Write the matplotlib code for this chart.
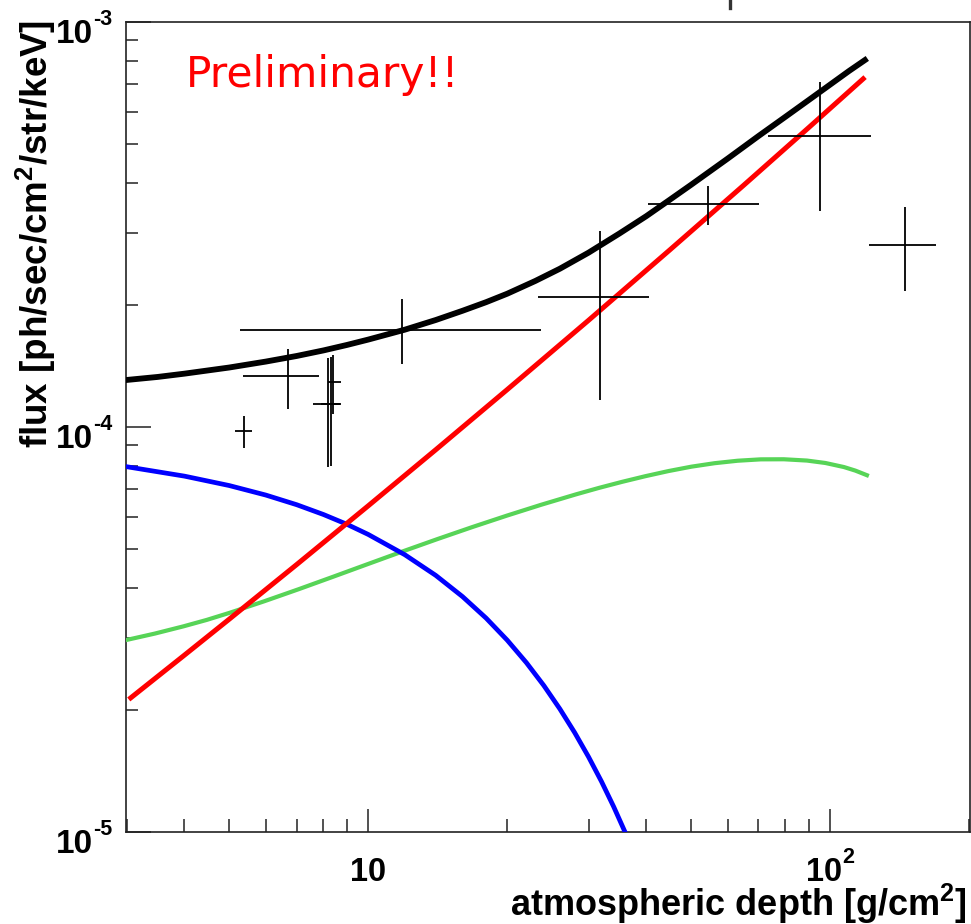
import matplotlib
matplotlib.use("Agg")
import matplotlib.pyplot as plt
import numpy as np
from matplotlib.lines import Line2D

plt.rcParams["font.family"] = ["Liberation Sans", "DejaVu Sans"]
plt.rcParams["mathtext.fontset"] = "custom"
plt.rcParams["mathtext.rm"] = "Liberation Sans:bold"
plt.rcParams["mathtext.bf"] = "Liberation Sans:bold"
plt.rcParams["mathtext.it"] = "Liberation Sans:bold"

# ---- model components (depth in g/cm^2, flux in ph/sec/cm^2/str/keV) ----
total_depth = [2.99, 3.5, 4, 5, 6, 7, 8, 9, 10, 12, 14, 16, 18, 20, 23, 26,
               30, 35, 40, 45, 50, 60, 70, 80, 90, 100, 110, 119]
total_flux = [1.304e-4, 1.327e-4, 1.352e-4, 1.40e-4, 1.448e-4, 1.495e-4,
              1.543e-4, 1.592e-4, 1.641e-4, 1.736e-4, 1.834e-4, 1.933e-4,
              2.03e-4, 2.13e-4, 2.29e-4, 2.455e-4, 2.69e-4, 3.00e-4, 3.31e-4,
              3.635e-4, 3.955e-4, 4.59e-4, 5.22e-4, 5.82e-4, 6.41e-4,
              6.99e-4, 7.56e-4, 8.04e-4]

secondary_depth = [3.06, 4, 5, 7, 10, 14, 20, 30, 45, 65, 90, 118]
secondary_flux = [2.14e-5, 2.729e-5, 3.347e-5, 4.567e-5, 6.377e-5, 8.77e-5,
                  1.235e-4, 1.831e-4, 2.733e-4, 3.945e-4, 5.482e-4, 7.228e-4]

cosmic_depth = [2.99, 4, 5, 6, 7, 8, 9, 10, 12, 14, 16, 18, 20, 22, 24, 26,
                28, 30, 32, 34, 36, 37.5]
cosmic_flux = [7.97e-5, 7.55e-5, 7.157e-5, 6.78e-5, 6.418e-5, 6.07e-5,
               5.739e-5, 5.42e-5, 4.83e-5, 4.295e-5, 3.807e-5, 3.368e-5,
               2.971e-5, 2.615e-5, 2.296e-5, 2.01e-5, 1.756e-5, 1.53e-5,
               1.33e-5, 1.153e-5, 9.97e-6, 8.93e-6]

reflected_depth = [2.99, 3.449, 3.98, 4.467, 5.01, 5.957, 7.08, 8.414, 10,
                   11.885, 14.13, 16.79, 19.95, 23.71, 28.18, 31.62, 35.48,
                   39.81, 44.67, 50.12, 56.23, 63.1, 70.79, 79.43, 89.13,
                   97.72, 107.2, 113.5, 120.2]
reflected_flux = [2.973e-5, 3.084e-5, 3.214e-5, 3.333e-5, 3.471e-5, 3.707e-5,
                  3.972e-5, 4.265e-5, 4.583e-5, 4.923e-5, 5.28e-5, 5.65e-5,
                  6.03e-5, 6.418e-5, 6.807e-5, 7.063e-5, 7.31e-5, 7.547e-5,
                  7.77e-5, 7.968e-5, 8.126e-5, 8.241e-5, 8.306e-5, 8.31e-5,
                  8.249e-5, 8.136e-5, 7.95e-5, 7.79e-5, 7.59e-5]

# ---- measurements: centre and lower/upper bounds ----
meas_depth = [5.38, 6.71, 8.17, 8.29, 8.41, 11.85, 31.76, 54.5, 95.1, 145.4]
meas_depth_lo = [5.15, 5.36, 7.58, 7.90, 8.17, 5.27, 23.27, 40.3, 73.4, 121.5]
meas_depth_hi = [5.60, 7.82, 8.71, 8.70, 8.71, 23.66, 40.55, 70.2, 122.5, 169.6]
meas_flux = [9.76e-5, 1.335e-4, 1.136e-4, 1.136e-4, 1.292e-4, 1.734e-4,
             2.096e-4, 3.553e-4, 5.21e-4, 2.812e-4]
meas_flux_lo = [8.88e-5, 1.107e-4, 7.96e-5, 8.0e-5, 1.075e-4, 1.429e-4,
                1.165e-4, 3.14e-4, 3.40e-4, 2.157e-4]
meas_flux_hi = [1.06e-4, 1.557e-4, 1.479e-4, 1.49e-4, 1.505e-4, 2.065e-4,
                3.05e-4, 3.94e-4, 7.08e-4, 3.485e-4]

# tick labels: mantissa and exponent ("" for none)
x_tick_values = [10, 100]
x_tick_exp = ["", "2"]
y_tick_values = [1e-5, 1e-4, 1e-3]
y_tick_exp = ["-5", "-4", "-3"]

fig = plt.figure(figsize=(9.71, 9.24), dpi=100)
ax = fig.add_axes([0.1295, 0.0999, 0.8695, 0.8766])
ax.set_xscale("log")
ax.set_yscale("log")
ax.set_xlim(2.985, 201)
ax.set_ylim(1e-5, 1e-3)

ax.plot(reflected_depth, reflected_flux, color="#57d457", lw=3.0, zorder=3)
ax.plot(cosmic_depth, cosmic_flux, color="#0000ff", lw=3.4, zorder=3)
ax.plot(secondary_depth, secondary_flux, color="#ff0000", lw=3.6, zorder=4)
ax.plot(total_depth, total_flux, color="black", lw=4.2, zorder=5)

xd = np.array(meas_depth)
yf = np.array(meas_flux)
xerr = [xd - np.array(meas_depth_lo), np.array(meas_depth_hi) - xd]
yerr = [yf - np.array(meas_flux_lo), np.array(meas_flux_hi) - yf]
ax.errorbar(xd, yf, xerr=xerr, yerr=yerr, fmt="none", ecolor="black",
            elinewidth=1.3, capsize=0, zorder=6)

# frame and ticks
for side in ["left", "bottom", "right", "top"]:
    ax.spines[side].set_linewidth(1.2)
    ax.spines[side].set_color("#222222")
ax.tick_params(axis="both", which="both", direction="in", width=1.1,
               color="#222222", labelbottom=False, labelleft=False)
ax.tick_params(axis="x", which="major", length=16.6)
ax.tick_params(axis="x", which="minor", length=9.4)
ax.tick_params(axis="y", which="major", length=18.0)
ax.tick_params(axis="y", which="minor", length=8.8)
ax.xaxis.set_major_locator(matplotlib.ticker.LogLocator(base=10, numticks=10))
ax.xaxis.set_minor_locator(matplotlib.ticker.LogLocator(base=10, subs=np.arange(2, 10), numticks=20))
ax.yaxis.set_minor_locator(matplotlib.ticker.LogLocator(base=10, subs=np.arange(2, 10), numticks=20))

# tick labels drawn as base "10" plus a raised exponent
for v, e in zip(x_tick_values, x_tick_exp):
    if e:
        ax.annotate("10", xy=(v, 0), xycoords=("data", "axes fraction"),
                    xytext=(12, -49), textcoords="offset pixels",
                    ha="right", va="baseline", fontsize=23.5, fontweight="bold")
        ax.annotate(e, xy=(v, 0), xycoords=("data", "axes fraction"),
                    xytext=(12, -31), textcoords="offset pixels",
                    ha="left", va="baseline", fontsize=15.5, fontweight="bold")
    else:
        ax.annotate("10", xy=(v, 0), xycoords=("data", "axes fraction"),
                    xytext=(0, -49), textcoords="offset pixels",
                    ha="center", va="baseline", fontsize=23.5, fontweight="bold")
for v, e in zip(y_tick_values, y_tick_exp):
    ax.annotate("10", xy=(0, v), xycoords=("axes fraction", "data"),
                xytext=(-33, -21), textcoords="offset pixels",
                ha="right", va="baseline", fontsize=24, fontweight="bold")
    ax.annotate(e, xy=(0, v), xycoords=("axes fraction", "data"),
                xytext=(-33, -3), textcoords="offset pixels",
                ha="left", va="baseline", fontsize=15.5, fontweight="bold")

# axis titles
ax.annotate(r"flux [ph/sec/cm$^{2}$/str/keV]", xy=(0, 1), xycoords="axes fraction",
            xytext=(-78, 2), textcoords="offset pixels", rotation=90,
            rotation_mode="anchor", ha="right", va="baseline",
            fontsize=26.5, fontweight="bold")
ax.annotate(r"atmospheric depth [g/cm$^{2}$]", xy=(1, 0), xycoords="axes fraction",
            xytext=(-3, -84), textcoords="offset pixels",
            ha="right", va="baseline", fontsize=26, fontweight="bold")

ax.text(0.0715, 0.919, "Preliminary!!", transform=ax.transAxes, color="#ff0000",
        fontsize=30.5, family="DejaVu Sans", ha="left", va="baseline")

# fragment of a clipped heading at the top edge
fig.add_artist(Line2D([730 / 971, 730 / 971], [1.0, 1 - 8 / 924],
                      color="#333333", lw=2.4, transform=fig.transFigure))

fig.savefig("out.png", dpi=100)
